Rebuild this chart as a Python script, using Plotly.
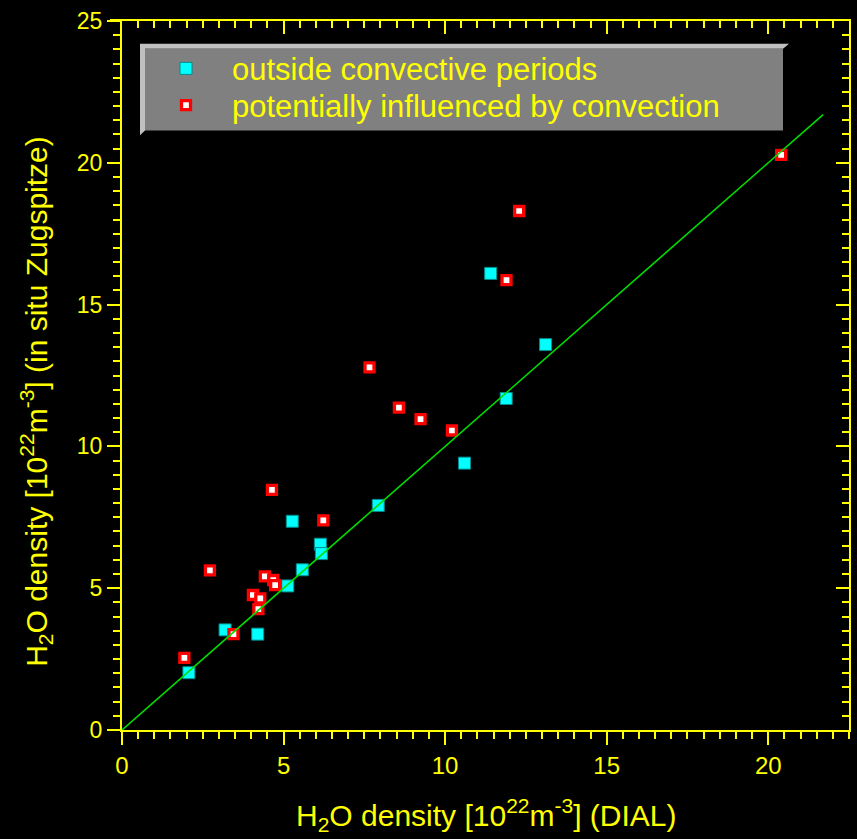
import plotly.graph_objects as go

# ---- data ----
outside_x = [2.07, 3.19, 4.20, 5.13, 5.27, 5.58, 6.14, 6.17, 7.93, 10.60, 11.41, 11.89, 13.11]
outside_y = [2.02, 3.53, 3.38, 5.08, 7.36, 5.65, 6.55, 6.22, 7.92, 9.41, 16.10, 11.69, 13.59]

conv_x = [1.93, 2.72, 3.45, 4.05, 4.22, 4.28, 4.42, 4.68, 4.74, 4.64, 6.23, 7.66, 8.57, 9.24, 10.21, 11.90, 12.29, 20.40]
conv_y = [2.54, 5.63, 3.38, 4.76, 4.26, 4.64, 5.42, 5.29, 5.11, 8.47, 7.39, 12.79, 11.37, 10.96, 10.56, 15.86, 18.30, 20.28]

line_x = [0.0, 21.7]
line_y = [0.0, 21.7]

x_ticks = [0, 5, 10, 15, 20]
y_ticks = [0, 5, 10, 15, 20, 25]

legend_names = ["outside convective periods", "potentially influenced by convection"]

# ---- layout geometry (pixels) ----
W, H = 857, 839
L, R, T, B = 122, 849, 17, 730

def fx(px):
    return (px - L) / (R - L)

def fy(py):
    return (B - py) / (B - T)

YEL = "#ffff00"
FONT = "Liberation Sans, Arial, sans-serif"

fig = go.Figure()
fig.add_trace(go.Scatter(
    x=outside_x, y=outside_y, mode="markers", name=legend_names[0], legend="legend",
    marker=dict(symbol="square", size=12, color="#00ffff",
                line=dict(color="#008c8c", width=1))))
fig.add_trace(go.Scatter(
    x=conv_x, y=conv_y, mode="markers", name=legend_names[1], legend="legend2",
    marker=dict(symbol="square", size=9, color="#ffffff",
                line=dict(color="#ff0000", width=3.3))))
fig.add_trace(go.Scatter(
    x=line_x, y=line_y, mode="lines", showlegend=False,
    line=dict(color="#00dd00", width=1.6)))
# dummy trace to activate mirrored axes
fig.add_trace(go.Scatter(x=[None], y=[None], xaxis="x2", yaxis="y2",
                         showlegend=False, hoverinfo="skip"))

common = dict(showline=True, linecolor=YEL, linewidth=2, showgrid=False,
              zeroline=False, tickcolor=YEL, tickwidth=2, ticklen=13)

leg_common = dict(xanchor="left", yanchor="middle", bgcolor="rgba(0,0,0,0)",
                  borderwidth=0, itemwidth=82,
                  font=dict(family=FONT, size=31, color=YEL))

fig.update_layout(
    width=W, height=H,
    margin=dict(l=L, r=W - R, t=T, b=H - B, pad=0),
    paper_bgcolor="#000000", plot_bgcolor="#000000",
    font=dict(family=FONT, color=YEL),
    showlegend=True,
    legend=dict(x=fx(140), y=fy(65), **leg_common),
    legend2=dict(x=fx(140), y=fy(102), **leg_common),
    xaxis=dict(range=[0, 22.5], tickvals=x_ticks, ticks="outside",
               tickfont=dict(size=24, color=YEL, family=FONT),
               minor=dict(dtick=0.5, tick0=0, ticks="outside", ticklen=7,
                          tickwidth=2, tickcolor=YEL, showgrid=False),
               **common),
    yaxis=dict(range=[0, 25], tickvals=y_ticks, ticks="outside",
               tickfont=dict(size=23, color=YEL, family=FONT),
               minor=dict(dtick=0.5, tick0=0, ticks="outside", ticklen=7,
                          tickwidth=2, tickcolor=YEL, showgrid=False),
               **common),
    xaxis2=dict(range=[0, 22.5], overlaying="x", side="top", anchor="y",
                tickvals=x_ticks, ticks="inside", showticklabels=False,
                minor=dict(dtick=0.5, tick0=0, ticks="inside", ticklen=7,
                           tickwidth=2, tickcolor=YEL, showgrid=False),
                **common),
    yaxis2=dict(range=[0, 25], overlaying="y", side="right", anchor="x",
                tickvals=y_ticks, ticks="inside", showticklabels=False,
                minor=dict(dtick=0.5, tick0=0, ticks="inside", ticklen=7,
                           tickwidth=2, tickcolor=YEL, showgrid=False),
                **common),
)

def path(points):
    s = "M " + " L ".join(f"{fx(a):.5f},{fy(b):.5f}" for a, b in points) + " Z"
    return s

# legend box with bevel
fig.add_shape(type="path", xref="paper", yref="paper", layer="below",
              path=path([(140, 40), (789, 40), (783, 45), (145, 45), (145, 127), (140, 132)]),
              fillcolor="#c0c0c0", line=dict(width=0))
fig.add_shape(type="rect", xref="paper", yref="paper", layer="below",
              x0=fx(145), x1=fx(783), y0=fy(127), y1=fy(45),
              fillcolor="#808080", line=dict(width=0))
# top axis line extends left over the tick zone
fig.add_shape(type="line", xref="paper", yref="paper",
              x0=fx(110), x1=fx(122), y0=fy(T - 1), y1=fy(T - 1),
              line=dict(color=YEL, width=2))

fig.add_annotation(text="H<sub>2</sub>O density [10<sup>22</sup>m<sup>-3</sup>] (DIAL)",
                   x=fx(486), y=fy(815), xref="paper", yref="paper",
                   showarrow=False, xanchor="center", yanchor="middle",
                   font=dict(family=FONT, size=30, color=YEL))
fig.add_annotation(text="H<sub>2</sub>O density [10<sup>22</sup>m<sup>-3</sup>] (in situ Zugspitze)",
                   x=fx(36), y=fy(400), xref="paper", yref="paper", textangle=-90,
                   showarrow=False, xanchor="center", yanchor="middle",
                   font=dict(family=FONT, size=30, color=YEL))

fig.write_html("out.html", config={"displayModeBar": False},
               post_script="document.body.style.margin='0';document.body.style.overflow='hidden';")
